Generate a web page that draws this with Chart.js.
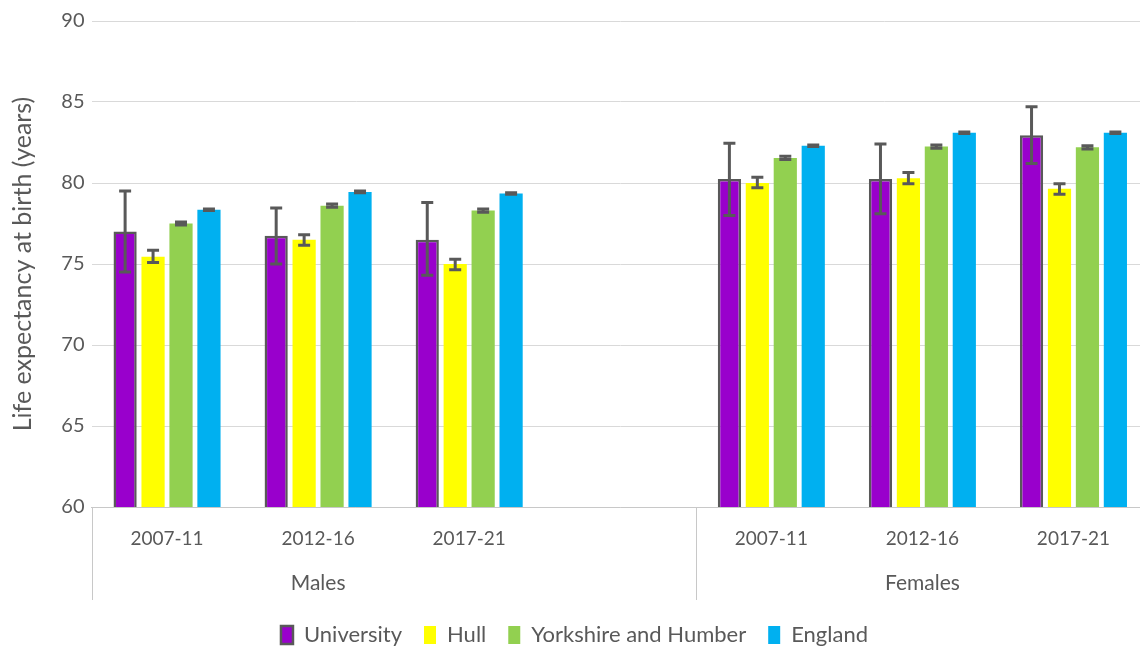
<!DOCTYPE html>
<html>
<head>
<meta charset="utf-8">
<script src="https://cdn.jsdelivr.net/npm/chart.js@4.4.1/dist/chart.umd.min.js"></script>
<style>
  html, body { margin: 0; padding: 0; background: #fff; overflow: hidden; }
  #wrap { width: 1150px; height: 650px; }
</style>
</head>
<body>
<div id="wrap"><canvas id="lifeChart" width="1150" height="650"></canvas></div>
<script>
// periods on the x axis, the blank one splits males from females
const categories = ['2007-11', '2012-16', '2017-21', '', '2007-11', '2012-16', '2017-21'];
const sexes = ['Males', 'Females'];
const sexOfCategory = [0, 0, 0, 0, 1, 1, 1];

const university = [77.0, 76.75, 76.5, null, 80.25, 80.25, 82.95];
const universityLo = [74.5, 75.0, 74.3, null, 78.0, 78.1, 81.2];
const universityHi = [79.5, 78.45, 78.8, null, 82.45, 82.4, 84.7];

const hull = [75.45, 76.5, 75.0, null, 80.0, 80.3, 79.65];
const hullLo = [75.1, 76.15, 74.65, null, 79.7, 79.95, 79.3];
const hullHi = [75.85, 76.8, 75.3, null, 80.35, 80.65, 79.95];

const yorkshire = [77.5, 78.6, 78.3, null, 81.55, 82.25, 82.2];
const yorkshireLo = [77.4, 78.5, 78.2, null, 81.45, 82.15, 82.1];
const yorkshireHi = [77.6, 78.7, 78.4, null, 81.65, 82.35, 82.3];

const england = [78.35, 79.45, 79.35, null, 82.3, 83.1, 83.1];
const englandLo = [78.3, 79.4, 79.3, null, 82.25, 83.05, 83.05];
const englandHi = [78.4, 79.5, 79.4, null, 82.35, 83.15, 83.15];

const textColor = '#595959';
const fontFamily = 'Lato, "Open Sans", sans-serif';

// confidence interval whiskers
const errorBars = {
  id: 'errorBars',
  afterDatasetsDraw(chart) {
    const ctx = chart.ctx;
    const y = chart.scales.y;
    ctx.save();
    ctx.strokeStyle = '#595959';
    ctx.lineWidth = 3;
    chart.data.datasets.forEach((ds, i) => {
      const meta = chart.getDatasetMeta(i);
      meta.data.forEach((bar, j) => {
        if (ds.data[j] == null) return;
        const x = bar.x;
        const top = y.getPixelForValue(ds.hi[j]);
        const bot = y.getPixelForValue(ds.lo[j]);
        ctx.beginPath();
        ctx.moveTo(x, top); ctx.lineTo(x, bot);
        ctx.moveTo(x - 6, top); ctx.lineTo(x + 6, top);
        ctx.moveTo(x - 6, bot); ctx.lineTo(x + 6, bot);
        ctx.stroke();
      });
    });
    ctx.restore();
  }
};

// second row of the category axis: Males / Females with dividers
const sexAxis = {
  id: 'sexAxis',
  afterDraw(chart) {
    const ctx = chart.ctx;
    const x = chart.scales.x;
    const area = chart.chartArea;
    ctx.save();
    ctx.strokeStyle = '#c8c8c8';
    ctx.lineWidth = 1;
    const cuts = [area.left];
    for (let i = 1; i < categories.length; i++) {
      if (sexOfCategory[i] !== sexOfCategory[i - 1]) {
        cuts.push((x.getPixelForValue(i - 1) + x.getPixelForValue(i)) / 2);
      }
    }
    cuts.push(area.right);
    ctx.beginPath();
    cuts.forEach(cx => {
      const px = Math.round(cx) + 0.5;
      ctx.moveTo(px, area.bottom);
      ctx.lineTo(px, area.bottom + 93);
    });
    ctx.stroke();

    ctx.fillStyle = textColor;
    ctx.font = '21px ' + fontFamily;
    ctx.textAlign = 'center';
    ctx.textBaseline = 'middle';
    sexes.forEach((label, s) => {
      const xs = [];
      categories.forEach((c, i) => {
        if (sexOfCategory[i] === s && c !== '') xs.push(x.getPixelForValue(i));
      });
      const cx = xs.reduce((a, b) => a + b, 0) / xs.length;
      ctx.fillText(label, cx, area.bottom + 76);
    });
    ctx.restore();
  }
};

new Chart(document.getElementById('lifeChart'), {
  type: 'bar',
  data: {
    labels: categories,
    datasets: [
      { label: 'University', data: university, lo: universityLo, hi: universityHi,
        backgroundColor: '#9900cc', borderColor: '#595959', borderWidth: 2.5 },
      { label: 'Hull', data: hull, lo: hullLo, hi: hullHi,
        backgroundColor: '#ffff00', borderWidth: 0 },
      { label: 'Yorkshire and Humber', data: yorkshire, lo: yorkshireLo, hi: yorkshireHi,
        backgroundColor: '#92d050', borderWidth: 0 },
      { label: 'England', data: england, lo: englandLo, hi: englandHi,
        backgroundColor: '#00b0f0', borderWidth: 0 }
    ]
  },
  options: {
    responsive: false,
    animation: false,
    categoryPercentage: 0.74,
    barPercentage: 0.83,
    layout: { padding: { top: 21, right: 1, bottom: -6, left: 0 } },
    scales: {
      y: {
        min: 60,
        max: 90,
        ticks: { stepSize: 5, color: textColor, padding: 7, font: { size: 20, family: fontFamily } },
        grid: { color: '#d9d9d9', drawTicks: false },
        border: { display: false },
        title: {
          display: true,
          text: 'Life expectancy at birth (years)',
          color: textColor,
          font: { size: 25, family: fontFamily },
          padding: { top: 8, bottom: 0 }
        },
        afterFit(s) { s.width = 91.5; }
      },
      x: {
        ticks: { color: textColor, padding: 20, autoSkip: false, maxRotation: 0, font: { size: 19, family: fontFamily } },
        grid: { display: false, drawTicks: false },
        border: { color: '#c8c8c8', width: 1 },
        afterFit(s) { s.height = 95; }
      }
    },
    plugins: {
      legend: {
        position: 'bottom',
        labels: {
          color: textColor,
          boxWidth: 12,
          boxHeight: 18,
          padding: 22,
          font: { size: 22, family: fontFamily }
        }
      },
      tooltip: { enabled: false }
    }
  },
  plugins: [errorBars, sexAxis]
});
</script>
</body>
</html>
